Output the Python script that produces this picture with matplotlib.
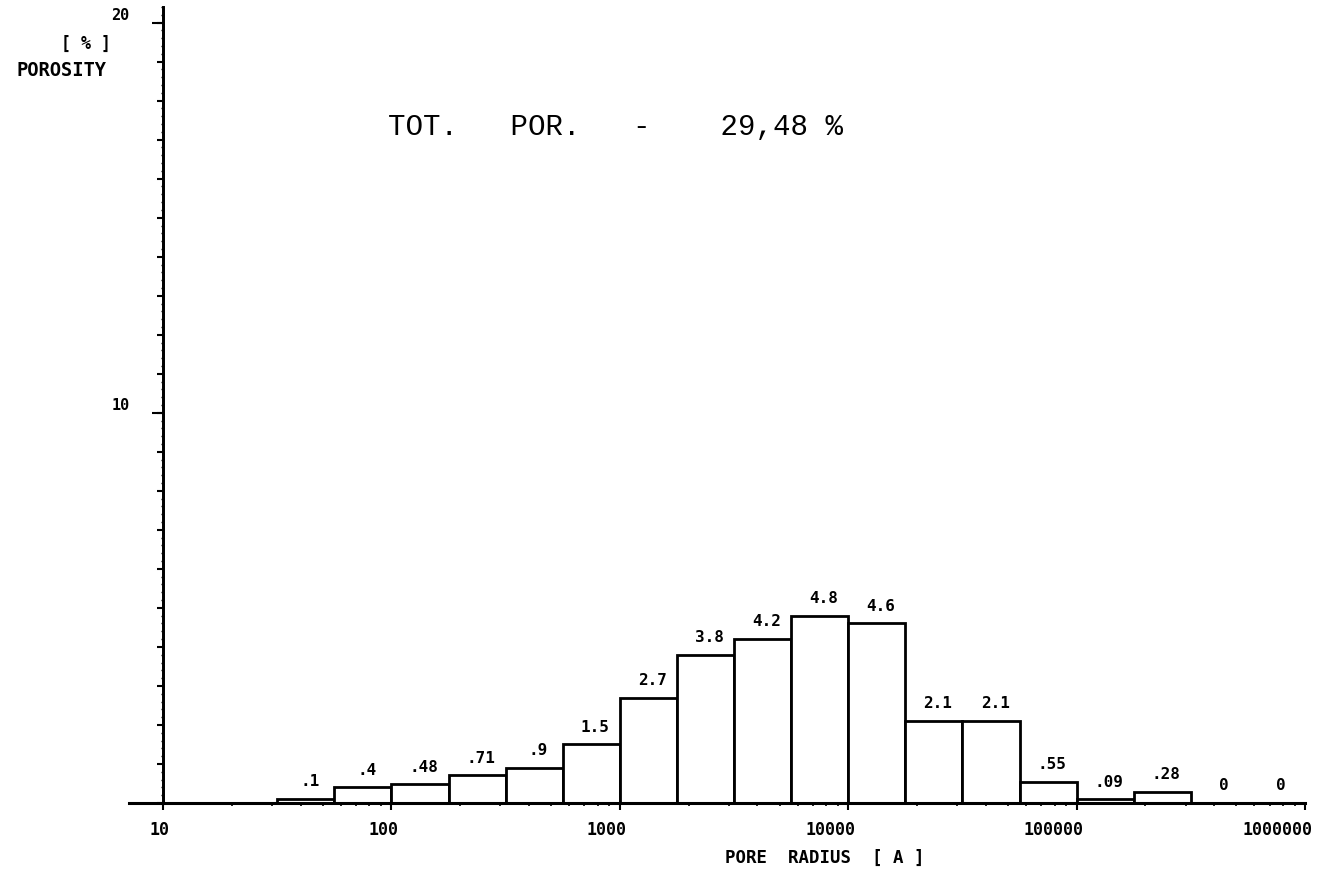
import numpy as np
import matplotlib.pyplot as plt
from matplotlib.lines import Line2D
from matplotlib.ticker import FixedLocator, LogLocator, NullFormatter, MultipleLocator
from matplotlib.transforms import ScaledTranslation

# porosity [%] per quarter-decade class of pore radius [A]
bin_edges = np.logspace(1.5, 6.0, 19)
porosity = [0.1, 0.4, 0.48, 0.71, 0.9, 1.5, 2.7, 3.8, 4.2, 4.8, 4.6,
            2.1, 2.1, 0.55, 0.09, 0.28, 0, 0]
total_porosity = "29,48"
x_ticks = [10, 100, 1000, 10000, 100000, 1000000]
y_ticks = [10, 20]


def short(v):
    # plotter style: .48 instead of 0.48
    s = f"{v:g}"
    return s[1:] if s.startswith("0.") else s


plot_font = "DejaVu Sans Mono"

fig = plt.figure(figsize=(13.25, 8.77), dpi=100)
ax = fig.add_axes([0.123, 0.0844, 0.862, 0.9076])

bars = ax.bar(bin_edges[:-1], porosity, width=np.diff(bin_edges), align='edge',
              color='white', edgecolor='black', linewidth=2.0)
ax.bar_label(bars, labels=[short(v) for v in porosity], padding=7,
             fontsize=11.5, fontfamily=plot_font, fontweight='bold')

ax.set_xscale('log')
ax.set_xlim(10, 1e6)
ax.set_ylim(0, 20.4)

for side in ['top', 'right']:
    ax.spines[side].set_visible(False)
ax.spines['left'].set_linewidth(2)
ax.spines['bottom'].set_linewidth(2.2)

# x axis line runs a bit past the y axis
ax.add_line(Line2D([-0.03, 0], [0, 0], transform=ax.transAxes,
                   color='black', linewidth=2.2, clip_on=False))

# x ticks
ax.xaxis.set_major_locator(FixedLocator(x_ticks))
ax.set_xticklabels([str(t) for t in x_ticks])
ax.xaxis.set_minor_locator(LogLocator(base=10, subs=np.arange(2, 10)))
ax.xaxis.set_minor_formatter(NullFormatter())
ax.tick_params(axis='x', which='major', direction='out', length=5, width=1.5,
               pad=8, labelsize=12)
ax.tick_params(axis='x', which='minor', direction='out', length=2.5, width=1.2)
for lbl in ax.get_xticklabels():
    lbl.set_fontfamily(plot_font)
    lbl.set_fontweight('bold')
    lbl.set_horizontalalignment('right')
    lbl.set_transform(lbl.get_transform() + ScaledTranslation(5 / 72, 0, fig.dpi_scale_trans))

# y ticks: every unit, fine ticks every 0.2, long labelled ticks at 10 and 20
ax.yaxis.set_major_locator(MultipleLocator(1))
ax.yaxis.set_minor_locator(MultipleLocator(0.2))
ax.tick_params(axis='y', which='major', direction='out', length=4, width=1.5,
               labelleft=False)
ax.tick_params(axis='y', which='minor', direction='out', length=1.8, width=1.0)

sec = ax.secondary_yaxis('left')
sec.set_yticks(y_ticks, labels=[str(t) for t in y_ticks])
sec.tick_params(length=8, width=1.5, pad=16, labelsize=11)
sec.spines['left'].set_linewidth(2)
for lbl in sec.get_yticklabels():
    lbl.set_fontfamily(plot_font)
    lbl.set_fontweight('bold')
    lbl.set_verticalalignment('bottom')

# axis titles
fig.text(86 / 1325, 1 - 44 / 877, "[ % ]", ha='center', va='center',
         fontsize=12, fontfamily=plot_font, fontweight='bold')
fig.text(61 / 1325, 1 - 70 / 877, "POROSITY", ha='center', va='center',
         fontsize=13.5, fontfamily=plot_font, fontweight='bold')
fig.text(725 / 1325, 1 - 858 / 877, "PORE  RADIUS  [ A ]", ha='left', va='center',
         fontsize=12.5, fontfamily=plot_font, fontweight='bold')

fig.text(388 / 1325, 1 - 127 / 877, "TOT.   POR.   -    " + total_porosity + " %",
         ha='left', va='center', fontsize=21, fontfamily='Liberation Mono')

fig.savefig('out.png', dpi=100, facecolor='white')
